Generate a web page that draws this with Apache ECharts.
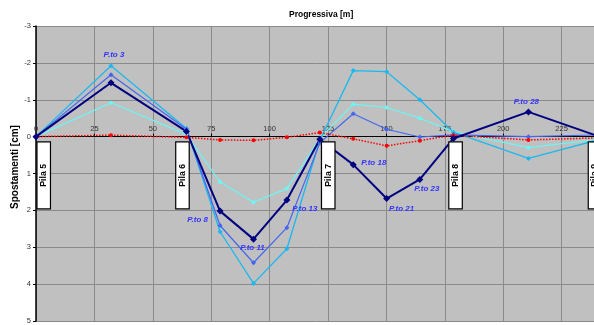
<!DOCTYPE html>
<html>
<head>
<meta charset="utf-8">
<script src="https://cdn.jsdelivr.net/npm/echarts@6/dist/echarts.min.js"></script>
<style>
  html, body { margin: 0; padding: 0; background: #ffffff; }
  #chart { width: 594px; height: 325px; }
</style>
</head>
<body>
<div id="chart"></div>
<script>
// Stations along the deck [m]
const stations = [0, 32.1, 64.4, 78.8, 93.1, 107.4, 121.5, 135.8, 150.1, 164.3, 178.7, 210.8, 242.9];

// Displacements [cm] for each load case
const caseNavy  = [0, -1.46, -0.14, 2.02, 2.78, 1.72, 0.07, 0.76, 1.68, 1.16, 0.05, -0.67, 0.04];
const caseRoyal = [0, -1.68, -0.20, 2.41, 3.42, 2.47, 0.17, -0.62, -0.20, 0.01, -0.05, 0.00, -0.05];
const caseSky   = [0, -1.92, -0.22, 2.58, 3.98, 3.04, 0.10, -1.79, -1.76, -1.00, -0.12, 0.59, 0.05];
const caseCyan  = [0, -0.92, -0.06, 1.23, 1.78, 1.41, 0.05, -0.88, -0.79, -0.50, -0.13, 0.30, 0.06];
const caseRed   = [0, -0.04, 0.02, 0.09, 0.10, 0.02, -0.11, 0.06, 0.25, 0.11, -0.04, 0.09, 0.03];

// Point names shown on the main curve
const pointNames = ['', 'P.to 3', '', 'P.to 8', 'P.to 11', 'P.to 13', '', 'P.to 18', 'P.to 21', 'P.to 23', '', 'P.to 28', ''];

// Piers
const pileNames = ['Pila 5', 'Pila 6', 'Pila 7', 'Pila 8', 'Pila 9'];
const pileMarks = [3.3, 62.7, 125.1, 179.6, 239.3];

// Label offsets around the points (pixels)
const labelOffsets = {
  'P.to 3': [3, -28], 'P.to 8': [-22.5, 8.7], 'P.to 11': [-1, 9], 'P.to 13': [18, 9],
  'P.to 18': [20.5, -1.4], 'P.to 21': [15, 10.6], 'P.to 23': [7, 9], 'P.to 28': [-2, -9.7]
};

const FONT = 'Liberation Sans, Arial, sans-serif';

function pairs(values) {
  return stations.map((x, i) => [x, values[i]]);
}

function lineSeries(name, values, color, width, symbol, size, type) {
  return {
    name: name,
    type: 'line',
    data: pairs(values),
    symbol: symbol,
    symbolSize: size,
    showAllSymbol: true,
    lineStyle: { color: color, width: width, type: type || 'solid' },
    itemStyle: { color: color },
    emphasis: { disabled: true },
    animation: false
  };
}

const navyData = stations.map((x, i) => {
  const item = { value: [x, caseNavy[i]] };
  const nm = pointNames[i];
  if (nm) {
    item.label = {
      show: true,
      formatter: nm,
      position: 'inside',
      offset: labelOffsets[nm],
      color: '#3333FF',
      fontSize: 8,
      fontWeight: 'bold',
      fontStyle: 'italic',
      fontFamily: FONT
    };
  }
  return item;
});

const chart = echarts.init(document.getElementById('chart'), null, { renderer: 'canvas' });

chart.setOption({
  animation: false,
  backgroundColor: '#ffffff',
  title: {
    text: 'Progressiva [m]',
    left: 284,
    top: 5,
    textStyle: { fontSize: 8.5, fontWeight: 'bold', color: '#000', fontFamily: FONT }
  },
  grid: {
    left: 36, right: -26, top: 26, bottom: 4,
    outerBoundsMode: 'none',
    containLabel: false,
    show: true, backgroundColor: '#C0C0C0', borderWidth: 0
  },
  xAxis: {
    type: 'value',
    position: 'bottom',
    min: 0, max: 250, interval: 25,
    axisLine: { show: true, onZero: false, lineStyle: { color: '#000', width: 1.2 } },
    axisTick: { show: true, inside: true, length: 3, lineStyle: { color: '#000' } },
    axisLabel: { inside: true, fontSize: 7.5, color: '#333', margin: 4, fontFamily: FONT },
    splitLine: { show: true, lineStyle: { color: '#8a8a8a', width: 1 } }
  },
  yAxis: {
    type: 'value',
    inverse: true,
    min: -3, max: 5, interval: 1,
    name: 'Spostamenti [cm]',
    nameLocation: 'middle',
    nameGap: 16,
    nameMoveOverlap: false,
    nameTextStyle: { fontSize: 10, fontWeight: 'bold', color: '#000', fontFamily: FONT, padding: [0, 0, 0, 13] },
    axisLine: { show: true, onZero: false, lineStyle: { color: '#000', width: 1.5 } },
    axisTick: { show: true, length: 3, lineStyle: { color: '#000' } },
    axisLabel: { fontSize: 7.5, color: '#333', margin: 5, fontFamily: FONT },
    splitLine: { show: true, lineStyle: { color: '#8a8a8a', width: 1 } }
  },
  series: [
    lineSeries('cyan', caseCyan, '#6CF5F5', 1.2, 'circle', 4),
    lineSeries('sky', caseSky, '#19B8F0', 1.3, 'diamond', 5),
    lineSeries('royal', caseRoyal, '#4466EE', 1.2, 'diamond', 5),
    lineSeries('red', caseRed, '#FF0000', 1.5, 'circle', 4, 'dotted'),
    Object.assign(lineSeries('navy', caseNavy, '#000080', 2, 'diamond', 7), { data: navyData }),
    {
      name: 'piles',
      type: 'custom',
      z: 10,
      clip: false,
      data: pileMarks.map((x, i) => [x, i]),
      renderItem: function (params, api) {
        const x = api.value(0);
        const idx = api.value(1);
        const top = api.coord([x, 0.14]);
        const bot = api.coord([x, 1.96]);
        const w = 13.5;
        const cx = top[0];
        return {
          type: 'group',
          children: [
            {
              type: 'rect',
              shape: { x: cx - w / 2, y: top[1], width: w, height: bot[1] - top[1] },
              style: { fill: '#ffffff', stroke: '#000000', lineWidth: 1.2 }
            },
            {
              type: 'text',
              x: cx,
              y: (top[1] + bot[1]) / 2,
              rotation: Math.PI / 2,
              style: {
                text: pileNames[idx],
                fill: '#000',
                font: 'bold 8.7px ' + FONT,
                align: 'center',
                verticalAlign: 'middle'
              }
            }
          ]
        };
      },
      animation: false
    }
  ]
});

// Lift the station axis so that it runs along the zero-displacement line
const zeroY = chart.convertToPixel({ yAxisIndex: 0 }, 0);
const baseY = chart.convertToPixel({ yAxisIndex: 0 }, 5);
chart.setOption({ xAxis: { offset: zeroY - baseY } });
</script>
</body>
</html>
